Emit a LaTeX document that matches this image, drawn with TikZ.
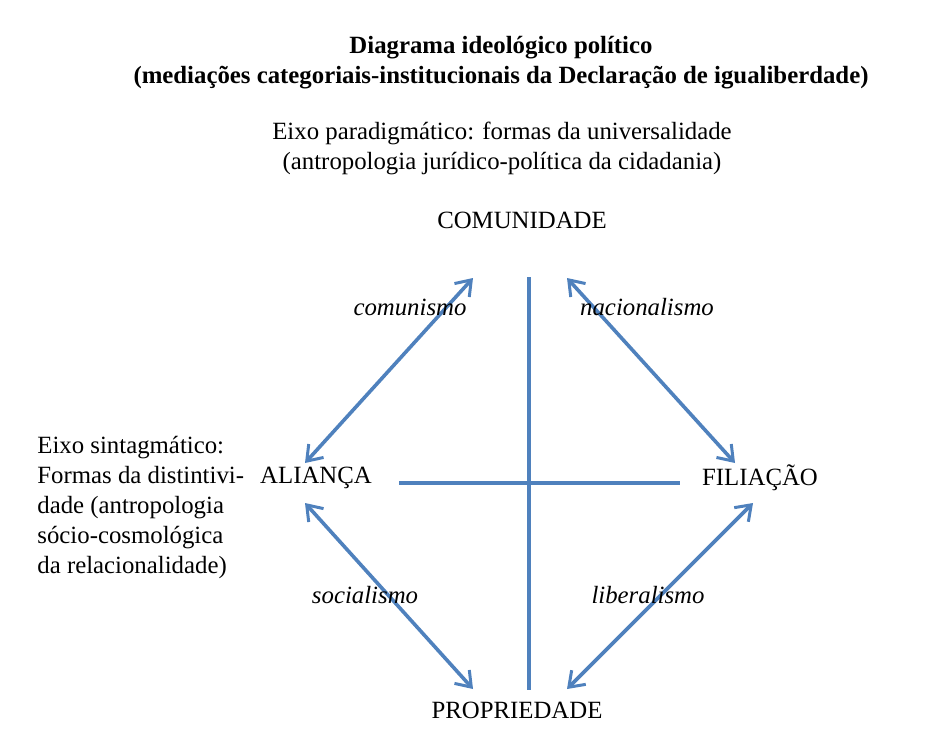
\documentclass[tikz,border=0pt,12pt]{standalone}
\usepackage{fontspec}
\setmainfont{Liberation Serif}
\usetikzlibrary{arrows.meta,positioning,calc}

\definecolor{eixoblue}{RGB}{79,129,189}
\tikzset{
  txt/.style={inner sep=0pt, font=\fontsize{12.4}{15}\selectfont},
  ideo/.style={txt, font=\fontsize{12.4}{15}\selectfont\itshape},
  eixo/.style={line width=1.8pt, draw=eixoblue},
  medi/.style={eixo, {Straight Barb[length=7pt,width=10pt,line width=1.5pt]}-{Straight Barb[length=7pt,width=10pt,line width=1.5pt]}}
}

\begin{document}
\begin{tikzpicture}[x=0.5pt, y=-0.5pt, line join=round]
\useasboundingbox (0,0) rectangle (940,739);
% titulo
\node[txt, align=center, font=\fontsize{12.4}{15}\selectfont\bfseries] (titulo) at (501,63)
  {Diagrama ideológico político\\(mediações categoriais-institucionais da Declaração de igualiberdade)};
\node[txt, align=center] (paradig) at (502,148)
  {Eixo paradigmático: formas da universalidade\\(antropologia jurídico-política da cidadania)};
\node[txt, align=left, anchor=west] (sintag) at (37,508)
  {Eixo sintagmático:\\Formas da distintivi-\\dade (antropologia\\sócio-cosmológica\\da relacionalidade)};
% categorias
\node[txt] (comunidade)  at (522,220) {COMUNIDADE};
\node[txt] (alianca)     at (316,478) {ALIANÇA};
\node[txt] (filiacao)    at (760,478) {FILIAÇÃO};
\node[txt] (propriedade) at (517,710) {PROPRIEDADE};
% pontas das setas
\coordinate (cl) at (473,278);
\coordinate (cr) at (567,278);
\coordinate (al) at (305,463);
\coordinate (ab) at (305,503);
\coordinate (fr) at (735,463);
\coordinate (fb) at (753,503);
\coordinate (pl) at (473,689);
\coordinate (pr) at (567,689);
% eixos
\coordinate (vtop) at (529,277);
\coordinate (vbot) at (529,690);
\coordinate (hl) at (399,483);
\coordinate (hr) at (680,483);
\draw[eixo] (vtop) -- (vbot);
\draw[eixo] (hl) -- (hr);
% mediacoes
\draw[medi] (cl) -- (al);
\draw[medi] (cr) -- (fr);
\draw[medi] (ab) -- (pl);
\draw[medi] (fb) -- (pr);
\node[ideo] (comunismo)    at (410,307) {comunismo};
\node[ideo] (nacionalismo) at (647,307) {nacionalismo};
\node[ideo] (socialismo)   at (365,595) {socialismo};
\node[ideo] (liberalismo)  at (648,595) {liberalismo};
\end{tikzpicture}
\end{document}
